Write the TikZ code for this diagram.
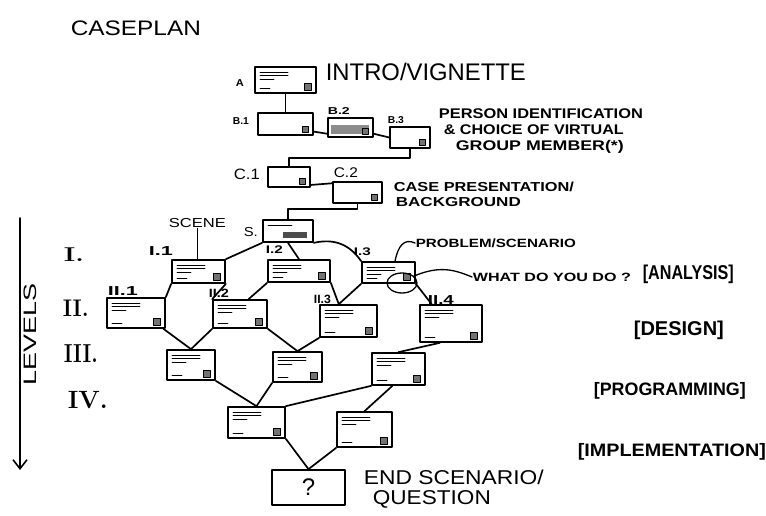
\documentclass[tikz,border=0pt]{standalone}
\usepackage{fontspec}
\usepackage{graphicx}
\newfontfamily\hand{Liberation Sans}
\usetikzlibrary{arrows.meta,calc,shapes.geometric}
\newcommand{\fw}[2]{\resizebox{#1pt}{\height}{#2}}
\newcommand{\fs}[1]{\fontsize{#1}{#1}\selectfont}
\begin{document}
\begin{tikzpicture}[x=1pt,y=-1pt,
  line width=1.7pt, line cap=round, line join=round,
  sq/.style={line width=0.9pt, fill=black!55},
  card/.style={draw, inner sep=0pt, path picture={
     \draw[line width=0.9pt] ([xshift=5pt,yshift=-5pt]path picture bounding box.north west) -- ++(28pt,0pt);
     \draw[line width=0.9pt] ([xshift=5pt,yshift=-8pt]path picture bounding box.north west) -- ++(28pt,0pt);
     \draw[line width=0.9pt] ([xshift=5pt,yshift=-12pt]path picture bounding box.north west) -- ++(14pt,0pt);
     \draw[line width=0.9pt] ([xshift=5pt,yshift=5pt]path picture bounding box.south west) -- ++(10pt,0pt);
     \draw[sq] ([xshift=-12pt,yshift=3pt]path picture bounding box.south east) rectangle ++(7pt,7pt);}},
  plaincard/.style={draw, inner sep=0pt, path picture={
     \draw[sq] ([xshift=-11pt,yshift=3pt]path picture bounding box.south east) rectangle ++(6pt,6pt);}},
  shadecard/.style={draw, inner sep=0pt, path picture={
     \fill[black!45] ([xshift=3pt,yshift=3pt]path picture bounding box.south west) rectangle ([xshift=-4pt,yshift=-7pt]path picture bounding box.north east);
     \draw[sq] ([xshift=-11pt,yshift=3pt]path picture bounding box.south east) rectangle ++(6pt,6pt);}},
  scard/.style={draw, inner sep=0pt, path picture={
     \draw[line width=0.9pt] ([xshift=5pt,yshift=-5pt]path picture bounding box.north west) -- ++(24pt,0pt);
     \fill[black!70] ([xshift=-30pt,yshift=4pt]path picture bounding box.south east) rectangle ++(24pt,6pt);}},
  txt/.style={anchor=west, inner sep=0pt, font=\hand},
  btxt/.style={anchor=west, inner sep=0pt, font=\hand\bfseries},
  lab/.style={anchor=west, inner sep=0pt, font=\hand\bfseries},
  rom/.style={anchor=west, inner sep=0pt, font=\bfseries},
  link/.style={line width=1.7pt}
]
\useasboundingbox (0,0) rectangle (766,516);

% title
\node[txt] (title) at (70,28) {\fs{21}\fw{130}{CASEPLAN}};

% boxes
\node[card, minimum width=61, minimum height=26] (A) at (285.5,80) {};
\node[plaincard, minimum width=55, minimum height=22] (B1) at (285.5,124) {};
\node[shadecard, minimum width=45, minimum height=19] (B2) at (350.5,127.5) {};
\node[plaincard, minimum width=40, minimum height=21] (B3) at (410,137.5) {};
\node[plaincard, minimum width=42, minimum height=20] (C1) at (289,177) {};
\node[plaincard, minimum width=49, minimum height=21] (C2) at (357.5,192.5) {};
\node[scard, minimum width=50, minimum height=22] (S) at (288,231) {};
\node[card, minimum width=53, minimum height=23] (I1) at (198.5,271.5) {};
\node[card, minimum width=62, minimum height=22] (I2) at (299,271) {};
\node[card, minimum width=53, minimum height=21] (I3) at (388.5,272.5) {};
\node[card, minimum width=58, minimum height=30] (II1) at (136,313) {};
\node[card, minimum width=54, minimum height=28] (II2) at (240,314) {};
\node[card, minimum width=57, minimum height=32] (II3) at (348.5,321) {};
\node[card, minimum width=62, minimum height=37] (II4) at (451,323.5) {};
\node[card, minimum width=48, minimum height=30] (III1) at (191,365) {};
\node[card, minimum width=49, minimum height=30] (III2) at (297.5,367) {};
\node[card, minimum width=53, minimum height=32] (III3) at (398.5,369) {};
\node[card, minimum width=57, minimum height=31] (IV1) at (256.5,422.5) {};
\node[card, minimum width=55, minimum height=35] (IV2) at (364.5,429.5) {};
\node[draw, minimum width=73, minimum height=35, font=\hand\fs{24}] (END) at (308.5,487.5) {?};

% ellipse around the question
\node[draw, ellipse, minimum width=30, minimum height=20, line width=1.3pt] (circ) at (402,283) {};

% box labels
\node[lab] (lA) at (235,83.5) {\fs{10}\fw{8}{A}};
\node[lab] (lB1) at (232,121) {\fs{10}\fw{16}{B.1}};
\node[lab] (lB2) at (327,111) {\fs{10}\fw{22}{B.2}};
\node[lab] (lB3) at (387,120) {\fs{10}\fw{16}{B.3}};
\node[txt] (lC1) at (233,174) {\fs{15}\fw{26}{C.1}};
\node[txt] (lC2) at (333,173) {\fs{14}\fw{24}{C.2}};
\node[txt] (lS) at (243,232) {\fs{13}\fw{14}{S.}};
\node[lab] (lI1) at (148,251) {\fs{13}\fw{24}{I.1}};
\node[lab] (lI2) at (265,250) {\fs{11}\fw{17}{I.2}};
\node[lab] (lI3) at (353,251.5) {\fs{11}\fw{17}{I.3}};
\node[lab] (lII1) at (107,291) {\fs{13}\fw{30}{II.1}};
\node[lab] (lII2) at (208,293) {\fs{12}\fw{20}{II.2}};
\node[lab] (lII3) at (313,299) {\fs{12}\fw{17}{II.3}};
\node[lab] (lII4) at (427,300) {\fs{13}\fw{26}{II.4}};

% descriptive texts
\node[txt] (intro) at (325,72) {\fs{24}\fw{200}{INTRO/VIGNETTE}};
\node[btxt] (p1) at (438,114) {\fs{14}\fw{204}{PERSON IDENTIFICATION}};
\node[btxt] (p2) at (443,130) {\fs{14}\fw{180}{\& CHOICE OF VIRTUAL}};
\node[btxt] (p3) at (455,147) {\fs{14}\fw{168}{GROUP MEMBER(*)}};
\node[btxt] (cs1) at (393,187) {\fs{13}\fw{180}{CASE PRESENTATION/}};
\node[btxt] (cs2) at (395,202.5) {\fs{13}\fw{125}{BACKGROUND}};
\node[txt] (scene) at (168,223) {\fs{13}\fw{57}{SCENE}};
\node[btxt] (prob) at (415,243) {\fs{12}\fw{160}{PROBLEM/SCENARIO}};
\node[btxt] (what) at (472,277) {\fs{12}\fw{158}{WHAT DO YOU DO ?}};
\node[btxt] (analysis) at (642,274) {\fs{20}\fw{91}{[ANALYSIS]}};
\node[btxt] (design) at (633,330) {\fs{20}\fw{90}{[DESIGN]}};
\node[btxt] (prog) at (593,391) {\fs{18}\fw{152}{[PROGRAMMING]}};
\node[btxt] (impl) at (577,452) {\fs{18}\fw{188}{[IMPLEMENTATION]}};
\node[txt] (end1) at (363,477) {\fs{20}\fw{180}{END SCENARIO/}};
\node[txt] (end2) at (372,499) {\fs{20}\fw{118}{QUESTION}};

% levels
\node[rom] (rI) at (63,255) {\fs{20}\fw{20}{I.}};
\node[rom] (rII) at (62,308) {\fs{24}\fw{26}{II.}};
\node[rom] (rIII) at (63,354) {\fs{26}\fw{34}{III.}};
\node[rom] (rIV) at (67,400) {\fs{25}\fw{40}{IV.}};
\node[txt, rotate=90, anchor=center] (levels) at (30,334) {\fs{18}\fw{102}{LEVELS}};
\coordinate (ltop) at (20,218);
\coordinate (lbot) at (20,470);
\draw[line width=1.6pt, -{Straight Barb[length=9pt,width=14pt]}] (ltop) -- (lbot);

% connectors
\draw[link] (A.south) -- (B1.north);
\draw[link] (B1.-15) -- (B2.-165);
\draw[link] (B2.-15) -- (B3.west);
\draw[link] (B3.south) -- ++(0,9) -| (C1.north);
\draw[link] (C1.-20) -- (C2.160);
\draw[link] (C2.south) -- ++(0,5) -| (S.north);
\draw[link] (S.south west) -- (I1.north east);
\draw[link] (S.south) -- (I2.north);
\draw[link] (S.south east) .. controls (335,238) and (350,245) .. (I3.north west);
\draw[link] (scene.south) -- (scene.south |- I1.north);
\draw[link] (I1.south west) -- (II1.north east);
\draw[link] (I1.south east) -- (II2.north west);
\draw[link] (I2.south west) -- (II2.60);
\draw[link] (I2.south east) -- (II3.120);
\draw[link] (I3.south west) -- (II3.120);
\draw[link] (I3.south east) -- (II4.135);
\draw[link] (II1.-30) -- (III1.north);
\draw[link] (II2.south west) -- (III1.north);
\draw[link] (II2.south east) -- (III2.north);
\draw[link] (II3.south west) -- (III2.north);
\draw[link] (II4.-120) -- (III3.north);
\draw[link] (III1.south east) -- (IV1.north);
\draw[link] (III2.south west) -- (IV1.north);
\draw[link] (III3.south west) -- (IV1.north east);
\draw[link] (III3.-110) -- (IV2.north);
\draw[link] (IV1.south east) -- (END.north);
\draw[link] (IV2.south west) -- (END.north);
\draw[line width=1.3pt] (I3.60) .. controls (398,246) and (404,238) .. (prob.west);
\draw[line width=1.3pt] (circ.30) .. controls (440,265) and (455,270) .. (what.west);
\end{tikzpicture}
\end{document}
